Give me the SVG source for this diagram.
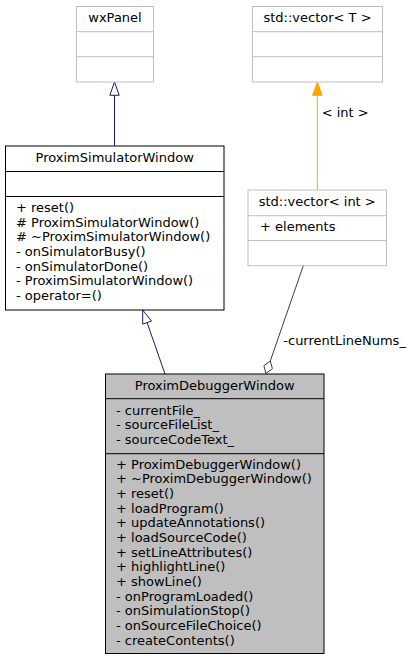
<svg xmlns="http://www.w3.org/2000/svg" width="412" height="661" viewBox="0 0 412 661">
<style>
text{font-family:"DejaVu Sans","Liberation Sans",sans-serif;font-size:13px;fill:#000}
.c{text-anchor:middle}
.ext rect,.ext line{stroke:#bfbfbf;fill:#fff;stroke-width:1}
.cls rect{stroke:#000;fill:#fff;stroke-width:1}
.cls line{stroke:#000;stroke-width:1}
.cur rect{fill:#bfbfbf}
</style>
<rect width="412" height="661" fill="#fff"/>
<g id="connectors">
  <g id="e1">
    <line x1="114.5" y1="95.3" x2="114.5" y2="145.7" stroke="#191970"/>
    <polygon points="114.5,82 119.2,95.3 109.8,95.3" fill="#fff" stroke="#191970"/>
  </g>
  <g id="e2">
    <line x1="317.3" y1="95.3" x2="317.3" y2="190" stroke="#ffa500"/>
    <polygon points="317.3,82 322,95.3 312.6,95.3" fill="#ffa500" stroke="#ffa500"/>
    <text x="321.7" y="117">&lt; int &gt;</text>
  </g>
  <g id="e3">
    <line x1="147.1" y1="322.6" x2="165" y2="374" stroke="#191970"/>
    <polygon points="142.7,310 151.5,321.1 142.7,324.1" fill="#fff" stroke="#191970"/>
  </g>
  <g id="e4">
    <line x1="303.3" y1="265.7" x2="270.3" y2="361" stroke="#404040"/>
    <polygon points="270.3,361 272.4,368.7 265.9,373.4 263.9,365.7" fill="#fff" stroke="#404040"/>
    <text x="283.3" y="345">-currentLineNums_</text>
  </g>
</g>
<g id="wxPanel" class="ext">
  <rect x="76.5" y="6.5" width="77" height="75.5"/>
  <line x1="76.5" y1="31.7" x2="153.5" y2="31.7"/>
  <line x1="76.5" y1="56.7" x2="153.5" y2="56.7"/>
  <text class="c" x="115" y="22.3">wxPanel</text>
</g>
<g id="vectorT" class="ext">
  <rect x="252.5" y="6.5" width="130" height="75.5"/>
  <line x1="252.5" y1="31.7" x2="382.5" y2="31.7"/>
  <line x1="252.5" y1="56.7" x2="382.5" y2="56.7"/>
  <text class="c" x="317.5" y="22.3">std::vector&lt; T &gt;</text>
</g>
<g id="vectorInt" class="ext">
  <rect x="248" y="190" width="138.5" height="75.7"/>
  <line x1="248" y1="215.7" x2="386.5" y2="215.7"/>
  <line x1="248" y1="240.5" x2="386.5" y2="240.5"/>
  <text class="c" x="317.2" y="206.3">std::vector&lt; int &gt;</text>
  <text x="260" y="230.7">+ elements</text>
</g>
<g id="ProximSimulatorWindow" class="cls">
  <rect x="5.5" y="146" width="218.5" height="164"/>
  <line x1="5.5" y1="171.5" x2="224" y2="171.5"/>
  <line x1="5.5" y1="196.5" x2="224" y2="196.5"/>
  <text class="c" x="114.7" y="162">ProximSimulatorWindow</text>
  <text x="16" y="212">+ reset()</text>
  <text x="16" y="226.7"># ProximSimulatorWindow()</text>
  <text x="16" y="241.3"># ~ProximSimulatorWindow()</text>
  <text x="16" y="256">- onSimulatorBusy()</text>
  <text x="16" y="270.7">- onSimulatorDone()</text>
  <text x="16" y="285.3">- ProximSimulatorWindow()</text>
  <text x="16" y="300">- operator=()</text>
</g>
<g id="ProximDebuggerWindow" class="cls cur">
  <rect x="105.5" y="374" width="218.5" height="279.5"/>
  <line x1="105.5" y1="398.7" x2="324" y2="398.7"/>
  <line x1="105.5" y1="453.7" x2="324" y2="453.7"/>
  <text class="c" x="214.7" y="390.3">ProximDebuggerWindow</text>
  <text x="116" y="414.7">- currentFile_</text>
  <text x="116" y="429.3">- sourceFileList_</text>
  <text x="116" y="444">- sourceCodeText_</text>
  <text x="116" y="468.7">+ ProximDebuggerWindow()</text>
  <text x="116" y="483.4">+ ~ProximDebuggerWindow()</text>
  <text x="116" y="498">+ reset()</text>
  <text x="116" y="512.7">+ loadProgram()</text>
  <text x="116" y="527.4">+ updateAnnotations()</text>
  <text x="116" y="542">+ loadSourceCode()</text>
  <text x="116" y="556.7">+ setLineAttributes()</text>
  <text x="116" y="571.4">+ highlightLine()</text>
  <text x="116" y="586">+ showLine()</text>
  <text x="116" y="600.7">- onProgramLoaded()</text>
  <text x="116" y="615.4">- onSimulationStop()</text>
  <text x="116" y="630">- onSourceFileChoice()</text>
  <text x="116" y="644.7">- createContents()</text>
</g>
</svg>
